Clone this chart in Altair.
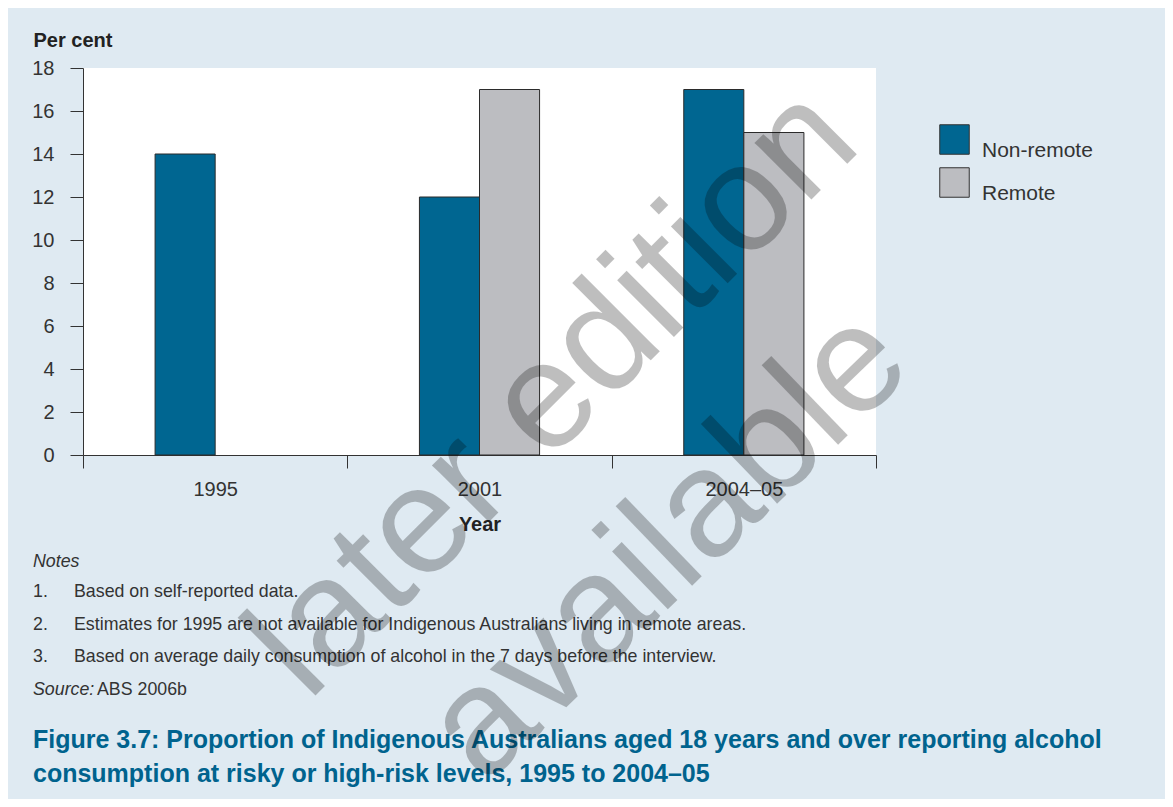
import altair as alt
import pandas as pd

# ---- data ----
years = ["1995", "2001", "2004–05"]
series = ["Non-remote", "Remote"]
non_remote = [14, 12, 17]
remote = [None, 17, 15]
colors = ["#006691", "#bcbdc1"]
y_ticks = [0, 2, 4, 6, 8, 10, 12, 14, 16, 18]

notes_nums = ["1.", "2.", "3."]
notes_text = [
    "Based on self-reported data.",
    "Estimates for 1995 are not available for Indigenous Australians living in remote areas.",
    "Based on average daily consumption of alcohol in the 7 days before the interview.",
]
caption = [
    "Figure 3.7: Proportion of Indigenous Australians aged 18 years and over reporting alcohol",
    "consumption at risky or high-risk levels, 1995 to 2004–05",
]
watermark = ["later edition", "available"]

rows = []
for i, yr in enumerate(years):
    for s, vals in zip(series, [non_remote, remote]):
        if vals[i] is not None:
            rows.append({"year": yr, "series": s, "value": vals[i]})
df = pd.DataFrame(rows)

FONT = "Liberation Sans"
W, H = 793, 387
offset_domain = ["_gap_left"] + series + ["_gap_right"]

bars = alt.Chart(df).mark_bar(stroke="#2b2b2b", strokeWidth=1).encode(
    x=alt.X(
        "year:N", sort=years,
        scale=alt.Scale(paddingInner=0, paddingOuter=0),
        axis=alt.Axis(
            title="Year", labelAngle=0, tickBand="extent", tickSize=13,
            labelPadding=11, titlePadding=15, labelFontSize=20, titleFontSize=20,
            titleFontWeight="bold", labelColor="#333333", titleColor="#222222",
            domainColor="#333333", tickColor="#333333", labelFont=FONT, titleFont=FONT,
        ),
    ),
    xOffset=alt.XOffset("series:N",
                        scale=alt.Scale(domain=offset_domain, paddingInner=0, paddingOuter=0.2)),
    y=alt.Y(
        "value:Q",
        scale=alt.Scale(domain=[0, 18], nice=False),
        axis=alt.Axis(
            values=y_ticks, format="d", tickSize=13, labelPadding=16, grid=False,
            title="Per cent", titleAngle=0, titleX=-50, titleY=-22,
            titleAlign="left", titleBaseline="alphabetic", titleFontSize=20,
            titleFontWeight="bold", titleColor="#222222", labelFontSize=20,
            labelColor="#333333", domainColor="#333333", tickColor="#333333",
            labelFont=FONT, titleFont=FONT,
        ),
    ),
    color=alt.Color(
        "series:N", sort=series,
        scale=alt.Scale(domain=series, range=colors),
        legend=alt.Legend(
            title=None, orient="none", legendX=856, legendY=56,
            symbolType="square", symbolSize=870, symbolStrokeColor="#333333",
            symbolStrokeWidth=1, symbolOpacity=1, labelFontSize=21, labelOffset=12,
            rowPadding=4, labelBaseline="top", labelColor="#333333", labelFont=FONT,
        ),
    ),
)

layers = [bars]


def txt(text, x, y, size=17.8, style="normal", weight="normal", color="#333333",
        align="left", baseline="middle"):
    return alt.Chart(pd.DataFrame({"t": [text]})).mark_text(
        font=FONT, fontSize=size, fontStyle=style, fontWeight=weight,
        color=color, align=align, baseline=baseline,
    ).encode(text="t:N", x=alt.value(x), y=alt.value(y))


layers.append(txt("Notes", -50, 494, style="italic"))
note_y = [524, 557, 589]
for n, t, yy in zip(notes_nums, notes_text, note_y):
    layers.append(txt(n, -50, yy))
    layers.append(txt(t, -9, yy))
layers.append(txt("Source:", -50, 622, style="italic"))
layers.append(txt("ABS 2006b", 14, 622))
layers.append(txt(caption[0], -50, 672, size=25, weight="bold", color="#00638e"))
layers.append(txt(caption[1], -50, 706, size=25, weight="bold", color="#00638e"))

for t, (xx, yy), ang in zip(watermark, [(503, 357), (617, 510)], [315, 316]):
    layers.append(
        alt.Chart(pd.DataFrame({"t": [t]})).mark_text(
            font=FONT, fontSize=152, angle=ang, align="center",
            baseline="alphabetic", color="#000000", opacity=0.25,
        ).encode(text="t:N", x=alt.value(xx), y=alt.value(yy))
    )

chart = alt.layer(*layers).properties(
    width=W, height=H,
    autosize=alt.AutoSizeParams(type="none"),
    padding={"left": 75, "top": 60, "right": 289, "bottom": 344},
    background="#dfeaf2",
).configure_view(fill="white", strokeWidth=0)

chart.save("out.html", embed_options={"renderer": "svg", "actions": False})
